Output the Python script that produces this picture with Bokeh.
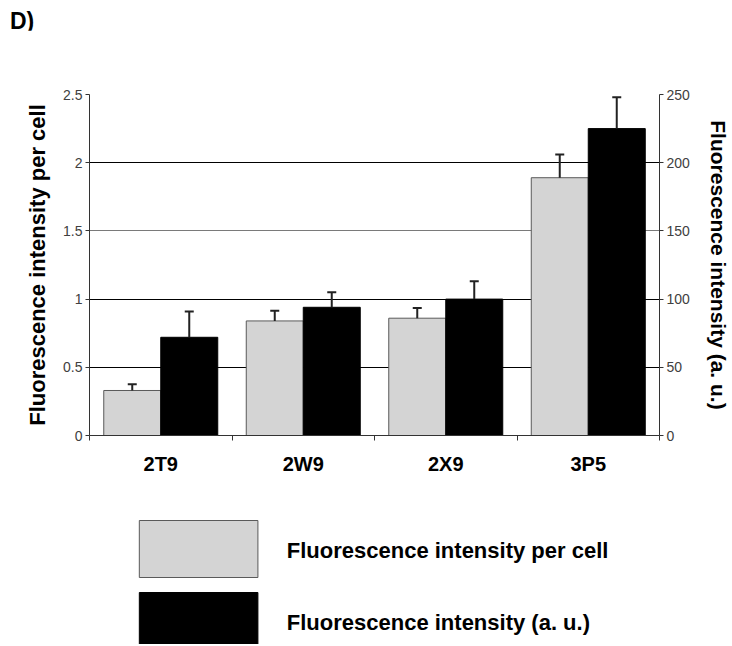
from bokeh.plotting import figure
from bokeh.models import Range1d, LinearAxis, FixedTicker, Grid, Div
from bokeh.core.properties import value
from bokeh.layouts import column
from bokeh.embed import file_html
from bokeh.resources import INLINE

# ---- data ----
categories = ["2T9", "2W9", "2X9", "3P5"]
per_cell = [0.33, 0.84, 0.86, 1.89]          # left axis
per_cell_err = [0.045, 0.075, 0.075, 0.17]
intensity_au = [72, 94, 100, 225]             # right axis
intensity_err = [19, 11, 13, 23]

left_ticks = [0, 0.5, 1, 1.5, 2, 2.5]
left_tick_labels = ["0", "0.5", "1", "1.5", "2", "2.5"]
right_ticks = [0, 50, 100, 150, 200, 250]

label_left = "Fluorescence intensity per cell"
label_right = "Fluorescence intensity (a. u.)"
legend_labels = [label_left, label_right]
panel_tag = "D)"

GRAY = "#d4d4d4"
GRAY_LINE = "#5a5a5a"
AX = "#333333"
FONT = "Liberation Sans"
W = 732
H_TAG = 30
H_MAIN = 458
H_LEG = 156
BL, BR = 89, 71   # frame borders (shared by both stacked figures)

n = len(categories)
idx = list(range(n))
x_gray = [i + 0.3 for i in idx]
x_black = [i + 0.7 for i in idx]
gray_top = [v + e for v, e in zip(per_cell, per_cell_err)]
black_top = [v + e for v, e in zip(intensity_au, intensity_err)]

tag = Div(text=panel_tag, width=120, height=H_TAG, margin=0,
          styles={"font-family": FONT, "font-size": "23px", "font-weight": "bold",
                  "line-height": "27px", "padding-left": "10px", "padding-top": "8px",
                  "color": "black"})

p = figure(width=W, height=H_MAIN, x_range=Range1d(0, n), y_range=Range1d(0, 2.5),
           output_backend="svg", toolbar_location=None,
           min_border_left=BL, min_border_right=BR, min_border_top=94 - H_TAG,
           min_border_bottom=53, x_axis_location=None, y_axis_location=None)
p.extra_y_ranges = {"au": Range1d(0, 250)}
p.outline_line_color = None
p.xgrid.visible = False
p.ygrid.visible = False

p.add_layout(Grid(dimension=1, ticker=FixedTicker(ticks=[0.5, 1, 2]),
                  grid_line_color="black", grid_line_width=1))
p.add_layout(Grid(dimension=1, ticker=FixedTicker(ticks=[1.5]),
                  grid_line_color="#7a7a7a", grid_line_width=1))

# left axis
yl = LinearAxis(ticker=FixedTicker(ticks=left_ticks),
                major_label_overrides=dict(zip(left_ticks, left_tick_labels)),
                axis_label=label_left)
# right axis
yr = LinearAxis(y_range_name="au", ticker=FixedTicker(ticks=right_ticks),
                axis_label=label_right)
for ax in (yl, yr):
    ax.axis_line_color = AX
    ax.major_tick_line_color = AX
    ax.major_tick_out = 4
    ax.major_tick_in = 0
    ax.minor_tick_line_color = None
    ax.major_label_text_font = FONT
    ax.major_label_text_font_size = "14px"
    ax.major_label_text_color = "#404040"
    ax.axis_label_text_font = FONT
    ax.axis_label_text_font_style = "bold"
    ax.axis_label_text_color = "black"
yl.axis_label_text_font_size = "22px"
yr.axis_label_text_font_size = "21px"
yl.major_label_standoff = 3
yl.axis_label_standoff = 10
yr.major_label_standoff = 3
yr.axis_label_standoff = 14
p.add_layout(yl, "left")
p.add_layout(yr, "right")

# bottom axis: labels at category centres, ticks at boundaries
xb = LinearAxis(ticker=FixedTicker(ticks=[i + 0.5 for i in idx], minor_ticks=list(range(n + 1))),
                major_label_overrides={i + 0.5: c for i, c in zip(idx, categories)})
xb.axis_line_color = AX
xb.major_tick_line_color = None
xb.major_tick_out = 0
xb.major_tick_in = 0
xb.minor_tick_line_color = AX
xb.minor_tick_out = 5
xb.minor_tick_in = 0
xb.major_label_standoff = 12
xb.major_label_text_font = FONT
xb.major_label_text_font_size = "20px"
xb.major_label_text_font_style = "bold"
xb.major_label_text_color = "black"
p.add_layout(xb, "below")

# bars
p.vbar(x=x_gray, top=per_cell, width=0.4, fill_color=GRAY, line_color=GRAY_LINE, line_width=1)
p.vbar(x=x_black, top=intensity_au, width=0.4, fill_color="black", line_color="black",
       line_width=1, y_range_name="au")

# error bars (upper only)
p.segment(x0=x_gray, y0=per_cell, x1=x_gray, y1=gray_top, line_color="#222222", line_width=2)
p.scatter(x=x_gray, y=gray_top, marker="dash", size=9, line_color="#222222", line_width=2)
p.segment(x0=x_black, y0=intensity_au, x1=x_black, y1=black_top, line_color="#222222",
          line_width=2, y_range_name="au")
p.scatter(x=x_black, y=black_top, marker="dash", size=9, line_color="#222222", line_width=2,
          y_range_name="au")

# legend panel (pixel coordinates, y downward); its frame is aligned with the main frame
lf = figure(width=W, height=H_LEG, x_range=Range1d(BL, W - BR), y_range=Range1d(H_LEG, 0),
            output_backend="svg", toolbar_location=None,
            min_border_left=BL, min_border_right=BR, min_border_top=0, min_border_bottom=0,
            x_axis_location=None, y_axis_location=None)
lf.outline_line_color = None
lf.xgrid.visible = False
lf.ygrid.visible = False
sw_left, sw_right, sw_h, sw_pitch, sw_top0 = 139, 258, 57, 72, 32
tops = [sw_top0 + k * sw_pitch for k in range(len(legend_labels))]
lf.quad(left=[sw_left] * 2, right=[sw_right] * 2, top=tops, bottom=[t + sw_h for t in tops],
        fill_color=[GRAY, "black"], line_color=[GRAY_LINE, "black"], line_width=1)
lf.text(x=[287] * 2, y=[t + sw_h / 2 + 1 for t in tops], text=legend_labels,
        text_font=value(FONT), text_font_size="22px", text_font_style="bold",
        text_baseline="middle", text_align="left", text_color="black")

layout = column(tag, p, lf)
open("out.html", "w").write(file_html(layout, INLINE))
